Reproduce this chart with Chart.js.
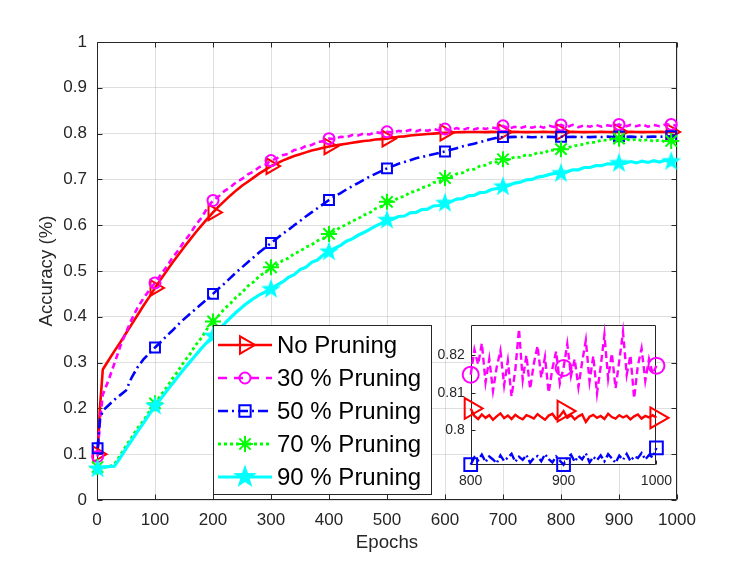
<!DOCTYPE html>
<html>
<head>
<meta charset="utf-8">
<title>Accuracy vs Epochs</title>
<script src="https://cdn.jsdelivr.net/npm/chart.js@4.4.1/dist/chart.umd.min.js"></script>
<style>
    html, body { margin: 0; padding: 0; background: #ffffff; }
    #main_box { position: absolute; left: 0; top: 0; width: 747px; height: 561px; }
    #inset_box { position: absolute; left: 420px; top: 310px; width: 260px; height: 188px; }
</style>
</head>
<body>
<div id="main_box"><canvas id="main_chart"></canvas></div>
<div id="inset_box"><canvas id="inset_chart"></canvas></div>
<script>
// ---- data ----
const epochs = [1, 5, 10, 20, 30, 40, 50, 60, 70, 80, 90,
    100, 110, 120, 130, 140, 150, 160, 170, 180, 190,
    200, 210, 220, 230, 240, 250, 260, 270, 280, 290,
    300, 310, 320, 330, 340, 350, 360, 370, 380, 390,
    400, 410, 420, 430, 440, 450, 460, 470, 480, 490,
    500, 510, 520, 530, 540, 550, 560, 570, 580, 590,
    600, 610, 620, 630, 640, 650, 660, 670, 680, 690,
    700, 710, 720, 730, 740, 750, 760, 770, 780, 790,
    800, 810, 820, 830, 840, 850, 860, 870, 880, 890,
    900, 910, 920, 930, 940, 950, 960, 970, 980, 990,
    1000]

const no_pruning = [.100, .200, .285, .305, .325, .344, .364, .384, .404, .424, .443,
    .463, .482, .500, .518, .535, .552, .568, .584, .599, .614,
    .628, .641, .653, .665, .676, .686, .695, .704, .713, .721,
    .729, .735, .741, .746, .751, .755, .759, .763, .766, .769,
    .772, .774, .776, .778, .780, .782, .784, .785, .787, .788,
    .789, .791, .793, .794, .796, .797, .798, .799, .800, .801,
    .802, .8025, .803, .8032, .8035, .8034, .8036, .8033, .8037, .8034,
    .8036, .8032, .8038, .8035, .8033, .8036, .8034, .8037, .8035, .8032,
    .8036, .8034, .8038, .8035, .8033, .8036, .8034, .8037, .8035, .8033,
    .8036, .8034, .8037, .8035, .8033, .8036, .8034, .8037, .8035, .8036,
    .8035]

const pruning_30 = [.095, .170, .230, .262, .298, .335, .366, .395, .420, .440, .458,
    .474, .492, .509, .529, .545, .564, .580, .600, .616, .637,
    .654, .663, .675, .683, .694, .701, .711, .717, .727, .732,
    .741, .746, .753, .756, .764, .766, .773, .775, .782, .783,
    .789, .788, .793, .792, .797, .796, .800, .798, .803, .801,
    .804, .802, .806, .804, .808, .805, .809, .806, .810, .807,
    .810, .807, .812, .808, .812, .809, .813, .810, .814, .811,
    .817, .811, .815, .812, .816, .813, .817, .813, .817, .814,
    .819, .814, .819, .814, .818, .815, .819, .815, .818, .816,
    .820, .815, .819, .816, .820, .815, .819, .816, .820, .820,
    .817]

const pruning_50 = [.113, .175, .195, .207, .219, .229, .239, .268, .290, .307, .320,
    .333, .345, .358, .370, .383, .395, .406, .417, .428, .439,
    .450, .462, .473, .485, .497, .508, .519, .530, .541, .551,
    .561, .571, .581, .590, .600, .609, .619, .628, .637, .646,
    .655, .663, .670, .678, .685, .692, .699, .706, .712, .718,
    .724, .729, .734, .738, .742, .746, .749, .752, .755, .758,
    .761, .765, .768, .772, .775, .778, .781, .785, .788, .791,
    .7925, .7922, .7928, .7924, .7930, .7921, .7927, .7925, .7931, .7923,
    .7932, .7926, .7932, .7922, .7929, .7924, .7930, .7926, .7933, .7925,
    .7940, .7927, .7934, .7926, .7931, .7928, .7935, .7930, .7936, .7945,
    .7940]

const pruning_70 = [.072, .072, .071, .072, .078, .098, .118, .137, .157, .173, .193,
    .211, .229, .246, .265, .282, .302, .318, .338, .354, .374,
    .390, .403, .418, .429, .443, .453, .467, .476, .489, .497,
    .508, .513, .523, .528, .538, .543, .552, .557, .566, .571,
    .581, .587, .596, .601, .609, .614, .622, .627, .636, .641,
    .651, .652, .660, .663, .672, .674, .682, .685, .693, .696,
    .703, .706, .712, .714, .721, .722, .729, .731, .737, .738,
    .744, .743, .749, .748, .754, .752, .759, .757, .764, .763,
    .766, .769, .772, .775, .777, .781, .781, .786, .785, .790,
    .789, .789, .785, .788, .784, .787, .783, .786, .782, .784,
    .782]

const pruning_90 = [.068, .070, .072, .073, .074, .092, .112, .131, .150, .168, .187,
    .205, .221, .238, .254, .270, .286, .301, .316, .331, .345,
    .358, .372, .385, .398, .410, .421, .431, .440, .448, .454,
    .460, .469, .476, .486, .492, .503, .508, .519, .524, .535,
    .542, .550, .556, .565, .570, .578, .584, .591, .598, .604,
    .611, .613, .619, .620, .627, .628, .634, .635, .642, .643,
    .648, .651, .657, .658, .664, .665, .671, .672, .678, .680,
    .684, .687, .692, .694, .699, .700, .705, .707, .711, .713,
    .713, .716, .721, .721, .726, .726, .730, .730, .734, .734,
    .735, .735, .739, .736, .740, .737, .741, .738, .742, .739,
    .742]

const marker_epochs = [1, 100, 200, 300, 400, 500, 600, 700, 800, 900, 990]
const x_ticks = [0, 100, 200, 300, 400, 500, 600, 700, 800, 900, 1000]
const y_ticks = [0, 0.1, 0.2, 0.3, 0.4, 0.5, 0.6, 0.7, 0.8, 0.9, 1]

// zoomed window 800..1000
const inset_epochs = [800, 804, 808, 812, 816, 820, 824, 828, 832, 836,
    840, 844, 848, 852, 856, 860, 864, 868, 872, 876,
    880, 884, 888, 892, 896, 900, 904, 908, 912, 916,
    920, 924, 928, 932, 936, 940, 944, 948, 952, 956,
    960, 964, 968, 972, 976, 980, 984, 988, 992, 996,
    1000]

const inset_no_pruning = [.8058, .8038, .8030, .8042, .8033, .8040, .8028, .8037, .8045, .8032,
    .8039, .8030, .8041, .8034, .8029, .8040, .8036, .8031, .8043, .8035,
    .8028, .8039, .8044, .8030, .8038, .8051, .8033, .8040, .8029, .8037,
    .8042, .8022, .8036, .8041, .8033, .8038, .8030, .8044, .8035, .8031,
    .8040, .8034, .8039, .8029, .8037, .8042, .8031, .8038, .8034, .8040,
    .8033]

const inset_pruning_30 = [.8148, .8215, .8175, .8232, .8128, .8190, .8105, .8168, .8212, .8120,
    .8185, .8090, .8160, .8270, .8135, .8200, .8110, .8178, .8225, .8140,
    .8195, .8100, .8165, .8210, .8125, .8166, .8230, .8145, .8190, .8115,
    .8182, .8240, .8130, .8198, .8098, .8170, .8255, .8138, .8205, .8112,
    .8185, .8262, .8148, .8200, .8085, .8172, .8218, .8132, .8190, .8150,
    .8172]

const inset_pruning_50 = [.7908, .7928, .7920, .7935, .7915, .7930, .7922, .7912, .7933, .7918,
    .7927, .7937, .7916, .7929, .7921, .7934, .7913, .7926, .7931, .7917,
    .7936, .7923, .7914, .7930, .7919, .7908, .7927, .7935, .7916, .7931,
    .7922, .7938, .7914, .7929, .7920, .7933, .7917, .7936, .7925, .7913,
    .7932, .7921, .7937, .7918, .7930, .7926, .7939, .7922, .7934, .7928,
    .7953]

const inset_marker_epochs = [800, 900, 1000]
const inset_x_ticks = [800, 900, 1000]
const inset_y_ticks = [0.8, 0.81, 0.82]

const legend_labels = ['No Pruning', '30 % Pruning', '50 % Pruning', '70 % Pruning', '90 % Pruning']

// ---- styling ----
const font_family = "'Liberation Sans', Arial, Helvetica, sans-serif"
const text_color = '#262626'
const axis_color = '#262626'
const grid_color = 'rgba(38, 38, 38, 0.15)'

Chart.defaults.font.family = font_family

function star_image(size, color) {
    // filled five-point star ("pentagram" marker)
    const c = document.createElement('canvas')
    c.width = size
    c.height = size
    const g = c.getContext('2d')
    const outer = size / 2 - 0.5
    const inner = outer * 0.4
    g.beginPath()
    for (let i = 0; i < 10; i++) {
        const a = -Math.PI / 2 + i * Math.PI / 5
        const r = i % 2 ? inner : outer
        g.lineTo(size / 2 + r * Math.cos(a), size / 2 + r * Math.sin(a))
    }
    g.closePath()
    g.fillStyle = color
    g.fill()
    return c
}

function points(xs, ys) {
    return xs.map((x, i) => ({x: x, y: ys[i]}))
}

function marker_radius(list, r) {
    return (ctx) => (ctx.raw && list.includes(ctx.raw.x)) ? r : 0
}

const main_star = star_image(22, '#00ffff')
const legend_star = star_image(26, '#00ffff')

// inward tick marks + box, optional white plot background
const axes_box = {
    id: 'axes_box',
    beforeDraw(chart, args, opts) {
        if (!opts.fill) return
        const a = chart.chartArea
        chart.ctx.save()
        chart.ctx.fillStyle = '#ffffff'
        chart.ctx.fillRect(a.left, a.top, a.right - a.left, a.bottom - a.top)
        chart.ctx.restore()
    },
    beforeDatasetsDraw(chart, args, opts) {
        const ctx = chart.ctx
        const a = chart.chartArea
        const x = chart.scales.x
        const y = chart.scales.y
        const len = opts.len
        const l = Math.round(a.left) + 0.5, r = Math.round(a.right) - 0.5
        const t = Math.round(a.top) + 0.5, b = Math.round(a.bottom) - 0.5
        ctx.save()
        ctx.strokeStyle = axis_color
        ctx.lineWidth = 1
        ctx.beginPath()
        ctx.rect(l, t, r - l, b - t)
        for (let v of opts.x_ticks) {
            const px = Math.round(x.getPixelForValue(v)) + 0.5
            ctx.moveTo(px, b); ctx.lineTo(px, b - len)
            if (opts.mirror) { ctx.moveTo(px, t); ctx.lineTo(px, t + len) }
        }
        for (let v of opts.y_ticks) {
            const py = Math.round(y.getPixelForValue(v)) + 0.5
            ctx.moveTo(l, py); ctx.lineTo(l + len, py)
            if (opts.mirror) { ctx.moveTo(r, py); ctx.lineTo(r - len, py) }
        }
        ctx.stroke()
        ctx.restore()
    }
}

const legend_sizes = [10, 5.5, 8, 8, 0]
const legend_box = {
    id: 'legend_box',
    afterDraw(chart) {
        const ctx = chart.ctx
        const bx = 213.5, by = 325.5, bw = 218, bh = 169
        ctx.save()
        ctx.fillStyle = '#ffffff'
        ctx.fillRect(bx, by, bw, bh)
        ctx.strokeStyle = axis_color
        ctx.lineWidth = 1
        ctx.strokeRect(bx, by, bw, bh)
        legend_labels.forEach((label, i) => {
            const ds = chart.data.datasets[i]
            const ly = 345 + i * 33
            ctx.strokeStyle = ds.borderColor
            ctx.lineWidth = ds.borderWidth
            ctx.setLineDash(ds.legendDash || ds.borderDash || [])
            ctx.beginPath()
            ctx.moveTo(218, ly)
            ctx.lineTo(272, ly)
            ctx.stroke()
            ctx.setLineDash([])
            if (i === 4) {
                ctx.drawImage(legend_star, 245 - 13, ly - 13)
            } else {
                ctx.fillStyle = 'rgba(0,0,0,0)'
                ctx.lineWidth = ds.pointBorderWidth
                Chart.helpers.drawPoint(ctx, {
                    pointStyle: ds.pointStyle,
                    rotation: ds.pointRotation || 0,
                    radius: legend_sizes[i],
                    borderWidth: ds.pointBorderWidth
                }, 245, ly)
            }
            ctx.fillStyle = '#000000'
            ctx.font = '24px ' + font_family
            ctx.textBaseline = 'middle'
            ctx.textAlign = 'left'
            ctx.fillText(label, 277, ly + 1)
        })
        ctx.restore()
    }
}

function tick_label(v) {
    return String(+v.toFixed(3))
}

const main_datasets = [
    {
        label: legend_labels[0],
        data: points(epochs, no_pruning),
        borderColor: '#ff0000', borderWidth: 2.6, order: 5,
        pointStyle: 'triangle', pointRotation: 90,
        pointRadius: marker_radius(marker_epochs, 9),
        pointBorderWidth: 2, pointBackgroundColor: 'rgba(0,0,0,0)', pointBorderColor: '#ff0000'
    },
    {
        label: legend_labels[1],
        data: points(epochs, pruning_30),
        borderColor: '#ff00ff', borderWidth: 2.6, borderDash: [6, 4], legendDash: [9, 7], order: 4,
        pointStyle: 'circle',
        pointRadius: marker_radius(marker_epochs, 5.5),
        pointBorderWidth: 2, pointBackgroundColor: 'rgba(0,0,0,0)', pointBorderColor: '#ff00ff'
    },
    {
        label: legend_labels[2],
        data: points(epochs, pruning_50),
        borderColor: '#0000ff', borderWidth: 2.6, borderDash: [10, 4, 2, 4], order: 3,
        pointStyle: 'rect',
        pointRadius: marker_radius(marker_epochs, 7),
        pointBorderWidth: 2, pointBackgroundColor: 'rgba(0,0,0,0)', pointBorderColor: '#0000ff'
    },
    {
        label: legend_labels[3],
        data: points(epochs, pruning_70),
        borderColor: '#00ff00', borderWidth: 2.8, borderDash: [3, 3], order: 2,
        pointStyle: 'star',
        pointRadius: marker_radius(marker_epochs, 8),
        pointBorderWidth: 2, pointBackgroundColor: 'rgba(0,0,0,0)', pointBorderColor: '#00ff00'
    },
    {
        label: legend_labels[4],
        data: points(epochs, pruning_90),
        borderColor: '#00ffff', borderWidth: 3.2, order: 1,
        pointStyle: main_star,
        pointRadius: marker_radius(marker_epochs, 11),
        pointBorderWidth: 0, pointBackgroundColor: '#00ffff', pointBorderColor: '#00ffff'
    }
]
for (let ds of main_datasets) {
    ds.clip = false
    ds.tension = 0
    ds.fill = false
}

const main_chart = new Chart('main_chart', {
    type: 'line',
    data: { datasets: main_datasets },
    options: {
        responsive: true,
        maintainAspectRatio: false,
        animation: false,
        events: [],
        layout: { padding: { left: 0, right: 70, top: 42, bottom: 0 } },
        plugins: {
            legend: { display: false },
            tooltip: { enabled: false },
            axes_box: { len: 5, mirror: true, fill: false, x_ticks: x_ticks, y_ticks: y_ticks }
        },
        scales: {
            x: {
                type: 'linear', min: 0, max: 1000,
                afterBuildTicks: (s) => { s.ticks = x_ticks.map(v => ({value: v})) },
                afterFit: (s) => { s.height = 61 },
                border: { display: false },
                grid: { color: grid_color, drawTicks: false },
                ticks: { color: text_color, font: { size: 17 }, padding: 10, maxRotation: 0, autoSkip: false, callback: tick_label },
                title: { display: true, text: 'Epochs', color: text_color, font: { size: 18.7 }, padding: { top: 0, bottom: 7 } }
            },
            y: {
                type: 'linear', min: 0, max: 1,
                afterBuildTicks: (s) => { s.ticks = y_ticks.map(v => ({value: v})) },
                afterFit: (s) => { s.width = 97 },
                border: { display: false },
                grid: { color: grid_color, drawTicks: false },
                ticks: { color: text_color, font: { size: 17 }, padding: 10, autoSkip: false, callback: tick_label },
                title: { display: true, text: 'Accuracy (%)', color: text_color, font: { size: 18.7 }, padding: { top: 36, bottom: 0 } }
            }
        }
    },
    plugins: [axes_box, legend_box]
})

const inset_datasets = [
    {
        data: points(inset_epochs, inset_no_pruning),
        borderColor: '#ff0000', borderWidth: 2.4, order: 3,
        pointStyle: 'triangle', pointRotation: 90,
        pointRadius: marker_radius(inset_marker_epochs, 12),
        pointBorderWidth: 2, pointBackgroundColor: 'rgba(0,0,0,0)', pointBorderColor: '#ff0000'
    },
    {
        data: points(inset_epochs, inset_pruning_30),
        borderColor: '#ff00ff', borderWidth: 2.4, borderDash: [7, 4], order: 2,
        pointStyle: 'circle',
        pointRadius: marker_radius(inset_marker_epochs, 8),
        pointBorderWidth: 2, pointBackgroundColor: 'rgba(0,0,0,0)', pointBorderColor: '#ff00ff'
    },
    {
        data: points(inset_epochs, inset_pruning_50),
        borderColor: '#0000ff', borderWidth: 2.4, borderDash: [9, 3, 2, 3], order: 1,
        pointStyle: 'rect',
        pointRadius: marker_radius(inset_marker_epochs, 9),
        pointBorderWidth: 2, pointBackgroundColor: 'rgba(0,0,0,0)', pointBorderColor: '#0000ff'
    }
]
for (let ds of inset_datasets) {
    ds.clip = false
    ds.tension = 0
    ds.fill = false
}

// canvas starts at y=310; the y scale reserves ~14.4px above its top tick,
// so the white plot box lands at ~324.5 like the picture
const inset_chart = new Chart('inset_chart', {
    type: 'line',
    data: { datasets: inset_datasets },
    options: {
        responsive: true,
        maintainAspectRatio: false,
        animation: false,
        events: [],
        layout: { padding: { left: 0, right: 22.7, top: 14.5, bottom: 0 } },
        plugins: {
            legend: { display: false },
            tooltip: { enabled: false },
            axes_box: { len: 4, mirror: false, fill: true, x_ticks: inset_x_ticks, y_ticks: inset_y_ticks }
        },
        scales: {
            x: {
                type: 'linear', min: 800, max: 1000,
                afterBuildTicks: (s) => { s.ticks = inset_x_ticks.map(v => ({value: v})) },
                afterFit: (s) => { s.height = 33.3 },
                border: { display: false },
                grid: { display: false, drawTicks: false },
                ticks: { color: text_color, font: { size: 14 }, padding: 8, maxRotation: 0, autoSkip: false, callback: tick_label }
            },
            y: {
                type: 'linear', min: 0.7908, max: 0.8282,
                afterBuildTicks: (s) => { s.ticks = inset_y_ticks.map(v => ({value: v})) },
                afterFit: (s) => { s.width = 50.7 },
                border: { display: false },
                grid: { display: false, drawTicks: false },
                ticks: { color: text_color, font: { size: 14 }, padding: 6, autoSkip: false, callback: tick_label }
            }
        }
    },
    plugins: [axes_box]
})
</script>
</body>
</html>
